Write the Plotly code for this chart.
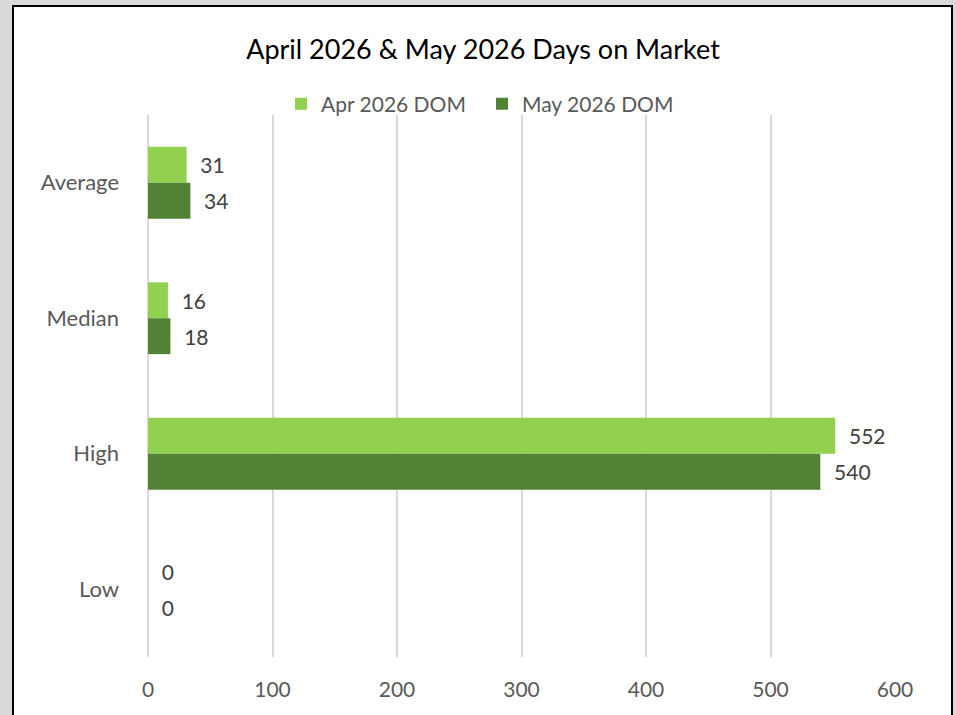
import plotly.graph_objects as go

categories = ["Average", "Median", "High", "Low"]
apr_dom = [31, 16, 552, 0]
may_dom = [34, 18, 540, 0]
series_names = ["Apr 2026 DOM", "May 2026 DOM"]
x_ticks = [0, 100, 200, 300, 400, 500, 600]

FONT = "Lato"
W, H = 956, 715
L, R, T, B = 148, 61, 115, 58
pw, ph = W - L - R, H - T - B

fig = go.Figure()
for name, vals, col in [(series_names[0], apr_dom, "#92D050"), (series_names[1], may_dom, "#548235")]:
    fig.add_trace(go.Bar(
        y=categories, x=vals, name=name, orientation="h",
        marker=dict(color=col, line=dict(width=0)),
        text=vals, texttemplate="  %{x}", textposition="outside",
        textfont=dict(family=FONT, size=21, color="#404040"),
        cliponaxis=False,
    ))

def px_x(p):
    return (p - L) / pw

def px_y(p):
    return (H - B - p) / ph

fig.add_shape(type="rect", xref="paper", yref="paper",
              x0=px_x(13), x1=px_x(952), y0=px_y(730), y1=px_y(6),
              fillcolor="white", line=dict(color="black", width=2), layer="below")

fig.update_layout(
    width=W, height=H,
    margin=dict(l=L, r=R, t=T, b=B),
    paper_bgcolor="#D9D9D9", plot_bgcolor="rgba(0,0,0,0)",
    barmode="group", bargap=0.47, bargroupgap=0,
    title=dict(text="April 2026 & May 2026 Days on Market", x=483 / W, xanchor="center",
               xref="container", y=1 - 50 / H, yanchor="middle",
               font=dict(family=FONT, size=27, color="black")),
    legend=dict(orientation="h", x=px_x(281), xanchor="left", y=px_y(104), yanchor="middle",
                xref="paper", yref="paper", font=dict(family=FONT, size=21, color="#595959"),
                bgcolor="rgba(0,0,0,0)", itemwidth=30, traceorder="normal",
                entrywidth=156, entrywidthmode="pixels"),
    showlegend=True,
    font=dict(family=FONT),
)
fig.update_xaxes(range=[0, 600], tickvals=x_ticks, showgrid=True, gridcolor="#D9D9D9", gridwidth=1.5,
                 zeroline=True, zerolinecolor="#D9D9D9", zerolinewidth=1.5, showline=False,
                 tickfont=dict(family=FONT, size=21, color="#595959"), ticks="", ticklabelstandoff=18)
fig.update_yaxes(categoryorder="array", categoryarray=categories, autorange="reversed",
                 showgrid=False, zeroline=False, showline=False, ticks="",
                 tickfont=dict(family=FONT, size=22, color="#595959"), ticklabelstandoff=28)

fig.write_html("out.html", config={"displayModeBar": False},
               post_script="document.body.style.margin='0';document.body.style.overflow='hidden';")
